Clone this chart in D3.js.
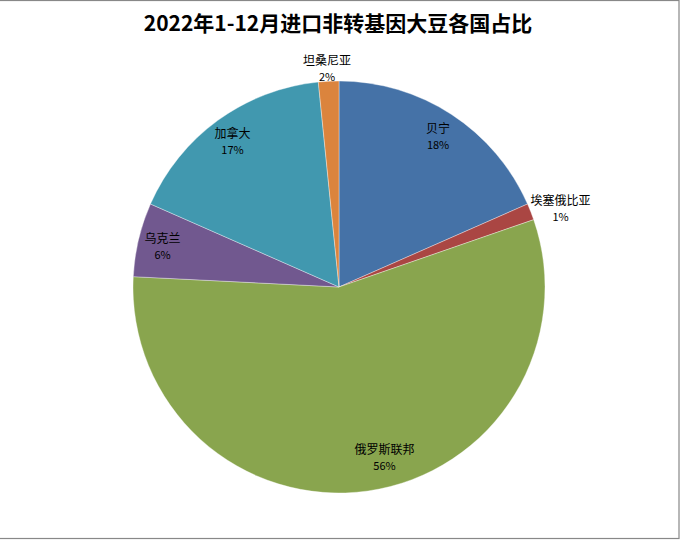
<!DOCTYPE html>
<html><head><meta charset="utf-8">
<script src="https://cdn.jsdelivr.net/npm/d3@7"></script>
<style>body{margin:0;background:#fff}svg{display:block}</style>
</head><body>
<script>
const title = "2022年1-12月进口非转基因大豆各国占比";
const countries = ["贝宁","埃塞俄比亚","俄罗斯联邦","乌克兰","加拿大","坦桑尼亚"];
const shares = [18.4, 1.3, 56.1, 5.8, 16.8, 1.6];
const colors = ["#4572A7","#AA4643","#89A54E","#71588F","#4198AF","#DB843D"];
const outside = ["埃塞俄比亚","坦桑尼亚"];

const W = 681, H = 540, cx = 339, cy = 287, R = 206;
const svg = d3.select("body").append("svg").attr("width", W).attr("height", H);
svg.append("rect").attr("x", -2).attr("y", 0.5).attr("width", 681).attr("height", 538)
  .attr("fill", "#fff").attr("stroke", "#888").attr("stroke-width", 1.2);

svg.append("text").attr("x", 338).attr("y", 31).attr("text-anchor", "middle")
  .attr("font-family", "'Noto Sans CJK SC', sans-serif").attr("font-weight", "bold")
  .attr("font-size", 21).attr("fill", "#000").text(title);

const data = countries.map((c, i) => ({name: c, value: shares[i], color: colors[i]}));
const total = d3.sum(shares);
const pie = d3.pie().value(d => d.value).sort(null);
const arcs = pie(data);
const arc = d3.arc().innerRadius(0).outerRadius(R);
const g = svg.append("g").attr("transform", `translate(${cx},${cy})`);
g.selectAll("path").data(arcs).join("path")
  .attr("d", arc).attr("fill", d => d.data.color)
  .attr("stroke", "#fff").attr("stroke-width", 0.6).attr("stroke-opacity", 0.6);

const labelArc = d3.arc().innerRadius(R * 0.88).outerRadius(R * 0.88);
const font = "'Noto Sans CJK SC', sans-serif";
arcs.forEach(a => {
  let x, y;
  const mid = (a.startAngle + a.endAngle) / 2;
  if (outside.includes(a.data.name)) {
    const r = R + 4;
    x = Math.sin(mid) * r + Math.sin(mid) * 28;
    y = -Math.cos(mid) * r - Math.cos(mid) * 10;
  } else {
    [x, y] = labelArc.centroid(a);
    if (a.data.name === "俄罗斯联邦") { x += 20; y -= 10; }
  }
  g.append("text").attr("text-anchor", "middle").attr("x", x).attr("y", y - 2)
    .attr("font-family", font).attr("font-size", 12).attr("fill", "#000")
    .text(a.data.name);
  g.append("text").attr("text-anchor", "middle").attr("x", x).attr("y", y + 14)
    .attr("font-family", font).attr("font-size", 11).attr("fill", "#000")
    .text(Math.round(a.data.value / total * 100) + "%");
});
</script>
</body></html>
